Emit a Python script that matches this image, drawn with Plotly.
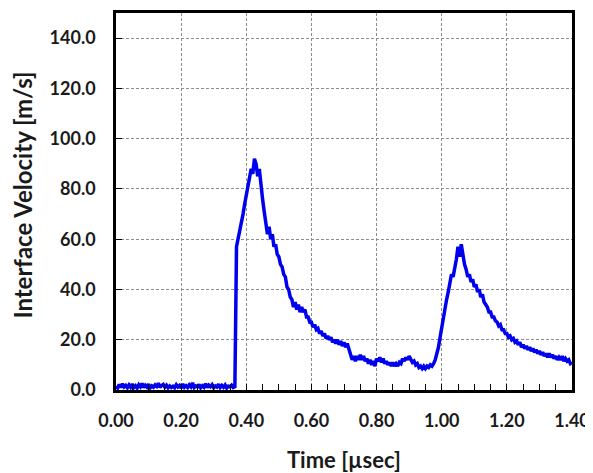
import plotly.graph_objects as go

step = 0.005

# Interface velocity [m/s], one value per 0.005 µsec from 0.00 to 1.40
velocity = [
    1.5, 0.8, 2.2, 1.0, 2.5, 1.2, 1.8, 0.9, 2.0, 1.1,          # 0.00
    2.4, 1.0, 1.7, 0.8, 2.1, 1.3, 2.6, 1.0, 1.9, 1.2,          # 0.05
    2.3, 0.9, 1.6, 1.1, 2.0, 1.4, 2.7, 1.0, 1.8, 2.2,          # 0.10
    1.1, 1.9, 0.9, 1.6, 1.0, 1.5, 0.9, 2.1, 1.2, 1.8,          # 0.15
    0.8, 2.4, 1.1, 1.7, 1.0, 2.0, 1.3, 2.8, 1.0, 1.6,          # 0.20
    1.2, 2.2, 0.9, 1.7, 1.1, 2.5, 1.0, 1.9, 1.3, 2.1,          # 0.25
    0.9, 1.6, 1.2, 2.3, 1.0, 1.8, 1.1, 2.0, 0.8, 1.5,          # 0.30
    1.2, 1.9, 1.0, 1.3, 57, 60, 63, 67, 70, 74,                # 0.35
    78, 82, 85, 88, 86, 92, 90, 85, 88, 80,                    # 0.40
    76, 71, 66, 62, 65, 60, 62, 57, 58, 54,                    # 0.45
    53, 50, 49, 46, 45, 41, 40, 37, 36, 33,                    # 0.50
    35, 32, 34, 31, 33, 31, 32, 29, 29, 27,                    # 0.55
    27, 25, 26, 24, 24.5, 22.5, 23.5, 21.5, 22.5, 20.5,        # 0.60
    21.5, 20, 21, 19, 20, 18.5, 20, 18, 19.5, 17.5,            # 0.65
    19, 17, 18.5, 16.5, 15, 12, 13.5, 11.5, 13.5, 12,          # 0.70
    14, 12, 13.5, 11.5, 12.5, 10.5, 12, 10, 11.5, 9.5,         # 0.75
    12.5, 11.5, 13, 11, 12.5, 10.5, 11.5, 10, 11, 9.5,         # 0.80
    11, 9.5, 10.5, 9.5, 11, 10.5, 12.5, 11.5, 13, 12,          # 0.85
    13.5, 12, 11, 11.5, 10, 10.5, 9, 9.5, 8.5, 9.5,            # 0.90
    8.5, 9.5, 9, 10, 9.5, 10.5, 12, 14.5, 17, 21,              # 0.95
    25, 30, 33, 36, 39, 42, 46, 45, 48, 52,                    # 1.00
    57, 53, 58, 53, 50, 48, 45, 46, 43, 44,                    # 1.05
    41, 42, 39, 40, 37, 38, 35, 34, 33, 31,                    # 1.10
    31, 29, 29, 27.5, 27, 25.5, 26, 24, 24, 22.5,              # 1.15
    22.5, 21, 21.5, 20, 20.5, 19, 19.5, 18, 19, 17,            # 1.20
    18, 16.5, 17.5, 16, 17, 15.5, 16.5, 15, 16, 14.5,          # 1.25
    15.5, 14, 15, 13.5, 14.5, 13, 14.5, 13, 14, 12.5,          # 1.30
    13.5, 12, 13, 12, 13.5, 11.5, 12.5, 11.5, 12, 10.5,        # 1.35
    11,                                                        # 1.40
]
assert len(velocity) == 281, len(velocity)
time = [round(i * step, 3) for i in range(len(velocity))]

x_ticks = [0.0, 0.2, 0.4, 0.6, 0.8, 1.0, 1.2, 1.4]
y_ticks = [0, 20, 40, 60, 80, 100, 120, 140]
x_title = "Time [µsec]"
y_title = "Interface Velocity [m/s]"

font_family = "Lato, Open Sans, sans-serif"
text_color = "#1a1a1a"

fig = go.Figure()
fig.add_trace(go.Scatter(
    x=time, y=velocity, mode="lines",
    line=dict(color="#0000ee", width=3.5),
    showlegend=False,
))

axis_common = dict(
    showline=True, mirror=True, linecolor="black", linewidth=2.5,
    showgrid=True, gridcolor="#8c8c8c", gridwidth=1, griddash="3px,2px",
    zeroline=False,
    ticks="inside", ticklen=6, tickcolor="black", tickwidth=1,
    tickfont=dict(family=font_family, size=18, color=text_color, weight="bold"),
)

# The page body has an 8px default margin, so the figure is offset by 8px.
fig.update_layout(
    width=585, height=465,
    margin=dict(l=108, r=21, t=2, b=83),
    paper_bgcolor="white", plot_bgcolor="white",
    xaxis=dict(
        range=[0, 1.4], tickvals=x_ticks, tickformat=".2f",
        minor=dict(dtick=0.05, ticks="inside", ticklen=6, tickcolor="black", showgrid=False),
        ticklabelstandoff=13,
        **axis_common,
    ),
    yaxis=dict(
        range=[0, 150], tickvals=y_ticks, tickformat=".1f",
        ticklabelstandoff=14,
        **axis_common,
    ),
    annotations=[
        dict(text="<b>" + x_title + "</b>", xref="paper", yref="paper", x=0.5, y=-0.184,
             xanchor="center", yanchor="middle", showarrow=False,
             font=dict(family=font_family, size=22, color=text_color)),
        dict(text="<b>" + y_title + "</b>", xref="paper", yref="paper", x=-0.206, y=0.516,
             xanchor="center", yanchor="middle", textangle=-90, showarrow=False,
             font=dict(family=font_family, size=24, color=text_color)),
    ],
)

fig.write_html("out.html")
